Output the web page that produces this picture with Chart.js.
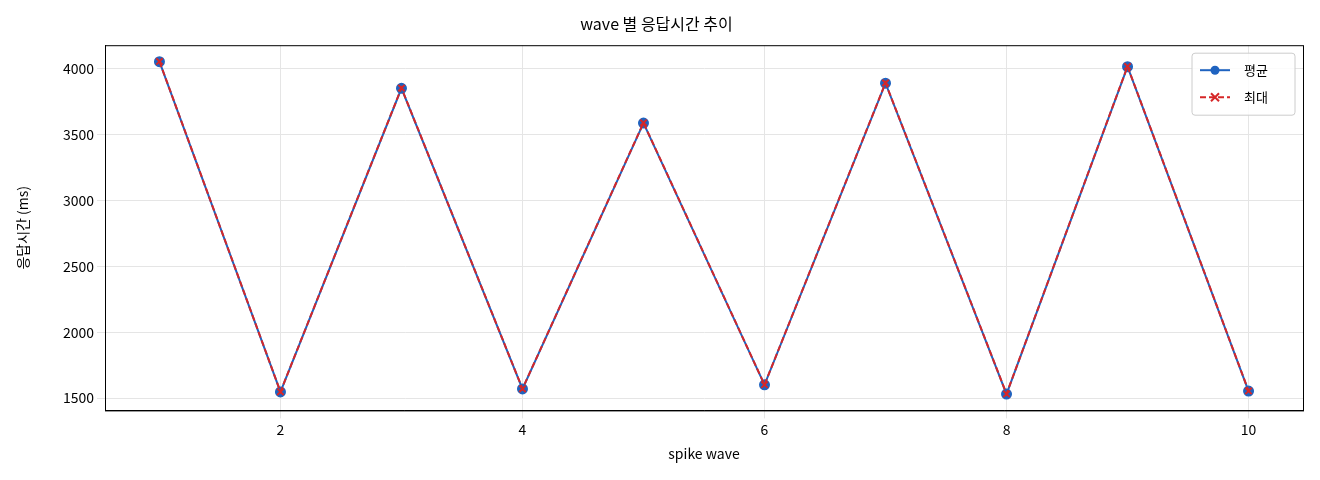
<!DOCTYPE html>
<html><head><meta charset="utf-8">
<script src="https://cdn.jsdelivr.net/npm/chart.js@4"></script>
<style>html,body{margin:0;padding:0;background:#fff}#wrap{width:1320px;height:480px}</style>
</head><body><div id="wrap"><canvas id="c"></canvas></div>
<script>
const waves = [1,2,3,4,5,6,7,8,9,10];
const avgValues = [4054,1547,3852,1570,3588,1601,3891,1531,4016,1554];
const maxValues = [4056,1548,3854,1571,3590,1602,3893,1532,4018,1555];
const xTicks = [2,4,6,8,10];
const yTicks = [1500,2000,2500,3000,3500,4000];
const F = "'Noto Sans CJK KR', 'Noto Sans', sans-serif";
Chart.defaults.font.family = F;
Chart.defaults.color = '#222';
const frameLegend = {
  id:'frameLegend',
  afterDraw(chart){
    const {ctx, chartArea:a} = chart;
    ctx.save();
    ctx.strokeStyle='#000'; ctx.lineWidth=1;
    ctx.strokeRect(a.left+0.5,a.top+0.5,a.right-a.left,a.bottom-a.top);
    const w=103,h=62,x=a.right-w-8,y=a.top+8;
    ctx.fillStyle='rgba(255,255,255,0.85)'; ctx.strokeStyle='#ccc';
    ctx.beginPath(); ctx.roundRect(x,y,w,h,3); ctx.fill(); ctx.stroke();
    chart.data.datasets.forEach((ds,i)=>{
      const cy=y+17+i*27;
      ctx.strokeStyle=ds.borderColor; ctx.lineWidth=2;
      ctx.setLineDash(ds.borderDash||[]);
      ctx.beginPath(); ctx.moveTo(x+8,cy); ctx.lineTo(x+38,cy); ctx.stroke();
      ctx.setLineDash([]);
      if(i===0){ctx.fillStyle=ds.borderColor;ctx.beginPath();ctx.arc(x+23,cy,4.5,0,Math.PI*2);ctx.fill();}
      else{ctx.beginPath();ctx.moveTo(x+19,cy-4);ctx.lineTo(x+27,cy+4);ctx.moveTo(x+27,cy-4);ctx.lineTo(x+19,cy+4);ctx.stroke();}
      ctx.fillStyle='#000'; ctx.font="13px "+F; ctx.textBaseline='middle';
      ctx.fillText(ds.label,x+52,cy);
    });
    ctx.restore();
  }
};
new Chart(document.getElementById('c'), {
  type: 'line',
  data: { datasets: [
    { label: '평균', order:1, data: waves.map((w,i)=>({x:w,y:avgValues[i]})), borderColor:'#1f63c0', backgroundColor:'#1f63c0', pointStyle:'circle', pointRadius:4.5, borderWidth:2, tension:0 },
    { label: '최대', order:0, data: waves.map((w,i)=>({x:w,y:maxValues[i]})), borderColor:'#d62728', backgroundColor:'#d62728', pointStyle:'crossRot', pointRadius:4.5, pointBorderWidth:2, borderWidth:2, borderDash:[6,3], tension:0 }
  ]},
  plugins:[frameLegend],
  options: {
    responsive:true, maintainAspectRatio:false, animation:false,
    layout:{padding:{left:10,right:17,top:0,bottom:14}},
    plugins:{
      title:{display:true,text:'wave 별 응답시간 추이',font:{size:16,weight:'normal'},color:'#000',padding:{top:14,bottom:12}},
      legend:{display:false}
    },
    scales:{
      x:{type:'linear',min:0.55,max:10.45,
        afterBuildTicks:a=>{a.ticks=xTicks.map(v=>({value:v}));},
        title:{display:true,text:'spike wave',font:{size:14},color:'#000'},
        grid:{color:'#e5e5e5'}, border:{color:'#000'}, ticks:{font:{size:14},color:'#000'}},
      y:{min:1407,max:4179,
        afterBuildTicks:a=>{a.ticks=yTicks.map(v=>({value:v}));},
        afterFit:a=>{a.width=95;},
        title:{display:true,text:'응답시간 (ms)',font:{size:14},color:'#000'},
        grid:{color:'#e5e5e5'}, border:{color:'#000'}, ticks:{font:{size:14},color:'#000',callback:v=>String(v)}}
    }
  }
});
</script></body></html>
